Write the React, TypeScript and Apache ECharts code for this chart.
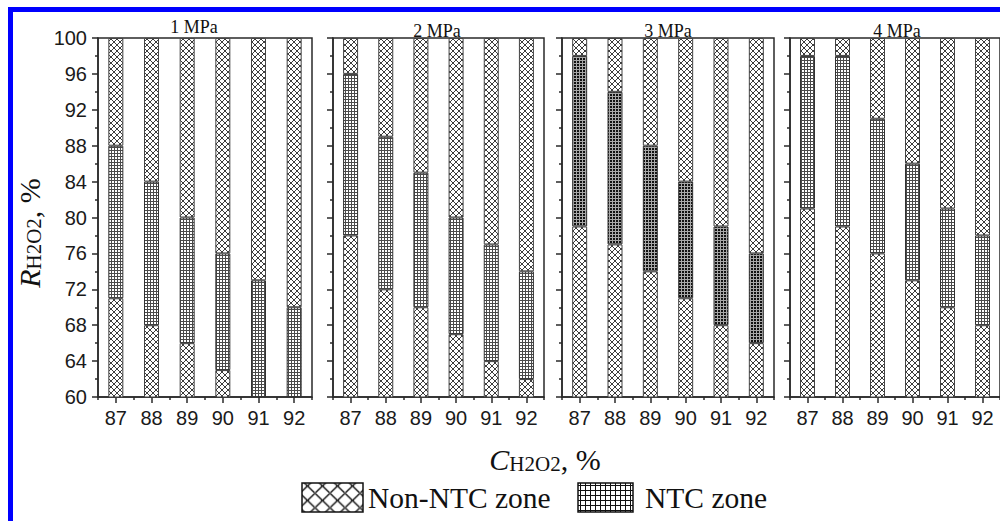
import React, { useEffect, useRef } from "react";
import * as echarts from "echarts";

// H2O2 concentration categories, %
const categories = ["87", "88", "89", "90", "91", "92"];
const panelTitles = ["1 MPa", "2 MPa", "3 MPa", "4 MPa"];

// Lower and upper limits of the NTC zone (R_H2O2, %) for each pressure
const ntcLow1MPa = [71, 68, 66, 63, 60, 60];
const ntcHigh1MPa = [88, 84, 80, 76, 73, 70];
const ntcLow2MPa = [78, 72, 70, 67, 64, 62];
const ntcHigh2MPa = [96, 89, 85, 80, 77, 74];
const ntcLow3MPa = [79, 77, 74, 71, 68, 66];
const ntcHigh3MPa = [98, 94, 88, 84, 79, 76];
const ntcLow4MPa = [81, 79, 76, 73, 70, 68];
const ntcHigh4MPa = [98, 98, 91, 86, 81, 78];

const yMin = 60;
const yMax = 100;
const yStep = 4;

const ntcLows = [ntcLow1MPa, ntcLow2MPa, ntcLow3MPa, ntcLow4MPa];
const ntcHighs = [ntcHigh1MPa, ntcHigh2MPa, ntcHigh3MPa, ntcHigh4MPa];

// plot areas of the four panels
const panelLeft = [98, 333, 562, 790];
const panelWidth = [214, 211, 212, 211];
const panelTop = 38;
const panelHeight = 359;
const titleX = [194, 437, 668, 897];
const titleY = [26.5, 31, 31, 31];

const SERIF = "Liberation Serif";
const SANS = "Liberation Sans";
const AXIS = "#2a2a2a";

function tile(w: number, h: number, draw: (ctx: CanvasRenderingContext2D) => void) {
  const c = document.createElement("canvas");
  c.width = w;
  c.height = h;
  const ctx = c.getContext("2d") as CanvasRenderingContext2D;
  draw(ctx);
  return { image: c, repeat: "repeat", imageWidth: w, imageHeight: h } as any;
}

function crossHatch(size: number, color: string, lw: number) {
  return tile(size, size, (ctx) => {
    ctx.fillStyle = "#fff";
    ctx.fillRect(0, 0, size, size);
    ctx.strokeStyle = color;
    ctx.lineWidth = lw;
    for (const k of [-size, 0, size]) {
      ctx.beginPath();
      ctx.moveTo(-2 + k, -2);
      ctx.lineTo(size + 2 + k, size + 2);
      ctx.stroke();
      ctx.beginPath();
      ctx.moveTo(size + 2 + k, -2);
      ctx.lineTo(-2 + k, size + 2);
      ctx.stroke();
    }
  });
}

function gridHatch(size: number, bg: string, line: string) {
  return tile(size, size, (ctx) => {
    ctx.fillStyle = bg;
    ctx.fillRect(0, 0, size, size);
    ctx.fillStyle = line;
    ctx.fillRect(0, 0, size, 1);
    ctx.fillRect(0, 0, 1, size);
  });
}

function legendCross(w: number, h: number) {
  return tile(w, h, (ctx) => {
    ctx.fillStyle = "#fff";
    ctx.fillRect(0, 0, w, h);
    ctx.strokeStyle = "#111";
    ctx.lineWidth = 1.4;
    for (const k of [-w, 0, w]) {
      ctx.beginPath();
      ctx.moveTo(k - 2, -2 * (h / w));
      ctx.lineTo(w + k + 2, h + 2 * (h / w));
      ctx.stroke();
      ctx.beginPath();
      ctx.moveTo(w + k + 2, -2 * (h / w));
      ctx.lineTo(k - 2, h + 2 * (h / w));
      ctx.stroke();
    }
  });
}

export default function App() {
  const ref = useRef<HTMLDivElement>(null);

  useEffect(() => {
    if (!ref.current) return;
    const chart = echarts.init(ref.current, null, { renderer: "svg" });

    const crossFill = crossHatch(6, "#3c3c3c", 1);
    const ntcLight = gridHatch(3, "#ffffff", "#4a4a4a");
    const ntcDark = tile(3, 3, (ctx) => {
      ctx.fillStyle = "#111";
      ctx.fillRect(0, 0, 3, 3);
      ctx.fillStyle = "#a8a8a8";
      ctx.fillRect(0, 0, 3, 1);
      ctx.fillRect(0, 0, 1, 3);
    });
    const legendCrossFill = legendCross(15, 14.5);
    const legendGridFill = gridHatch(5, "#ffffff", "#111");

    const grids: any[] = [];
    const xAxes: any[] = [];
    const yAxes: any[] = [];
    const series: any[] = [];

    for (let i = 0; i < 4; i++) {
      grids.push({
        left: panelLeft[i],
        top: panelTop,
        width: panelWidth[i],
        height: panelHeight,
        show: true,
        borderColor: AXIS,
        borderWidth: 1.5,
        backgroundColor: "transparent",
        containLabel: false,
      });
      xAxes.push({
        type: "category",
        gridIndex: i,
        data: categories,
        position: "bottom",
        boundaryGap: true,
        axisLine: { show: true, lineStyle: { color: AXIS, width: 1.5 } },
        axisTick: { show: true, alignWithLabel: true, length: 6, lineStyle: { color: AXIS, width: 1.5 } },
        axisLabel: { show: true, color: "#1a1a1a", fontSize: 20, fontFamily: SANS, margin: 11 },
        splitLine: { show: false },
      });
      // short ticks on the category boundaries
      xAxes.push({
        type: "value",
        gridIndex: i,
        position: "bottom",
        min: 0,
        max: 6,
        interval: 1,
        axisLine: { show: false },
        axisTick: { show: true, length: 3, lineStyle: { color: AXIS, width: 1.5 } },
        axisLabel: { show: false },
        splitLine: { show: false },
      });
      yAxes.push({
        type: "value",
        gridIndex: i,
        min: yMin,
        max: yMax,
        interval: yStep,
        axisLine: { show: true, lineStyle: { color: AXIS, width: 1.5 } },
        axisTick: { show: true, length: 6, lineStyle: { color: AXIS, width: 1.5 } },
        minorTick: { show: true, splitNumber: 2, length: 3, lineStyle: { color: AXIS, width: 1.5 } },
        axisLabel: { show: i === 0, color: "#1a1a1a", fontSize: 20, fontFamily: SANS, margin: 11 },
        splitLine: { show: false },
        minorSplitLine: { show: false },
      });

      const low = ntcLows[i];
      const high = ntcHighs[i];
      const ntcFill = i === 2 ? ntcDark : ntcLight;
      const common = {
        type: "bar",
        xAxisIndex: i * 2,
        yAxisIndex: i,
        stack: "p" + i,
        barWidth: 15,
        silent: true,
      };
      series.push({
        ...common,
        name: "Non-NTC zone",
        data: low.map((v) => v),
        itemStyle: { color: crossFill, borderColor: "#444", borderWidth: 1 },
      });
      series.push({
        ...common,
        name: "NTC zone",
        data: high.map((v, j) => v - low[j]),
        itemStyle: { color: ntcFill, borderColor: "#333", borderWidth: 1 },
      });
      series.push({
        ...common,
        name: "Non-NTC zone",
        data: high.map((v) => yMax - v),
        itemStyle: { color: crossFill, borderColor: "#444", borderWidth: 1 },
      });
    }

    const graphics: any[] = [
      { type: "rect", shape: { x: 8, y: 7, width: 992, height: 5 }, style: { fill: "#0000ff" }, z: 100 },
      { type: "rect", shape: { x: 8, y: 7, width: 5, height: 514 }, style: { fill: "#0000ff" }, z: 100 },
    ];

    panelTitles.forEach((t, i) => {
      graphics.push({
        type: "text",
        x: titleX[i],
        y: titleY[i],
        style: { text: t, fontFamily: SERIF, fontSize: 18, fill: "#111", align: "center", verticalAlign: "middle" },
      });
    });

    const subRich = {
      i: { fontFamily: SERIF, fontStyle: "italic", fontSize: 30, lineHeight: 30, verticalAlign: "bottom", fill: "#111" },
      s: { fontFamily: SERIF, fontSize: 21, lineHeight: 12, verticalAlign: "bottom", fill: "#111" },
      n: { fontFamily: SERIF, fontSize: 30, lineHeight: 30, verticalAlign: "bottom", fill: "#111" },
    };

    // x axis title
    graphics.push({
      type: "text",
      x: 545,
      y: 459,
      style: { text: "{i|C}{s|H2O2}{n|, %}", fontFamily: SERIF, align: "center", verticalAlign: "middle", rich: subRich },
    });
    // y axis title
    graphics.push({
      type: "text",
      x: 29,
      y: 233,
      rotation: Math.PI / 2,
      style: { text: "{i|R}{s|H2O2}{n|, %}", fontFamily: SERIF, align: "center", verticalAlign: "middle", rich: subRich },
    });

    // legend
    graphics.push({
      type: "rect",
      shape: { x: 302, y: 483, width: 61, height: 29 },
      style: { fill: legendCrossFill, stroke: "#111", lineWidth: 1.5 },
    });
    graphics.push({
      type: "text",
      x: 368,
      y: 498,
      style: { text: "Non-NTC zone", fontFamily: SERIF, fontSize: 29.5, fill: "#111", align: "left", verticalAlign: "middle" },
    });
    graphics.push({
      type: "rect",
      shape: { x: 578, y: 483, width: 55, height: 29 },
      style: { fill: legendGridFill, stroke: "#111", lineWidth: 1.5 },
    });
    graphics.push({
      type: "text",
      x: 645,
      y: 498,
      style: { text: "NTC zone", fontFamily: SERIF, fontSize: 29.5, fill: "#111", align: "left", verticalAlign: "middle" },
    });

    chart.setOption({
      animation: false,
      backgroundColor: "#ffffff",
      grid: grids,
      xAxis: xAxes,
      yAxis: yAxes,
      series,
      graphic: graphics,
    });

    return () => {
      chart.dispose();
    };
  }, []);

  return (
    <div
      ref={ref}
      style={{ position: "absolute", left: 0, top: 0, width: 1000, height: 521, background: "#fff" }}
    />
  );
}
